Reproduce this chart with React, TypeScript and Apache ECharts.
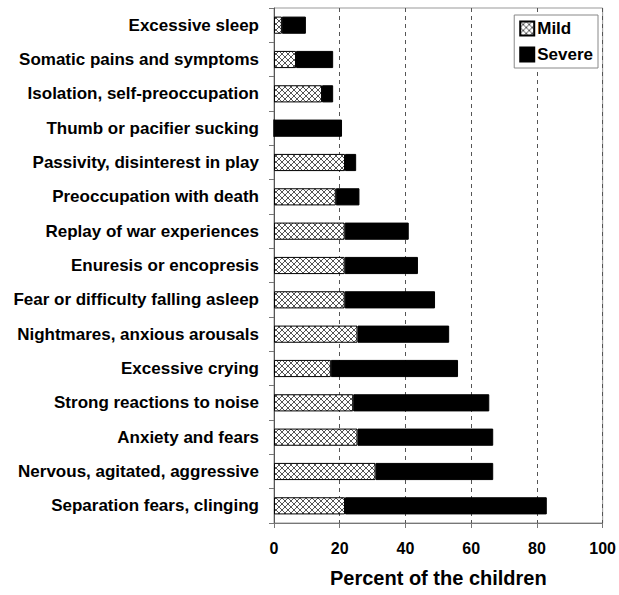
import React, { useEffect, useRef } from "react";
import * as echarts from "echarts";

const categories = [
  "Excessive sleep",
  "Somatic pains and symptoms",
  "Isolation, self-preoccupation",
  "Thumb or pacifier sucking",
  "Passivity, disinterest in play",
  "Preoccupation with death",
  "Replay of war experiences",
  "Enuresis or encopresis",
  "Fear or difficulty falling asleep",
  "Nightmares, anxious arousals",
  "Excessive crying",
  "Strong reactions to noise",
  "Anxiety and fears",
  "Nervous, agitated, aggressive",
  "Separation fears, clinging",
];

const mild = [2.4, 6.7, 14.6, 0, 21.6, 18.8, 21.5, 21.5, 21.5, 25.4, 17.3, 24.1, 25.4, 30.9, 21.6];
const severe = [7.3, 11.3, 3.4, 20.7, 3.4, 7.2, 19.5, 22.3, 27.5, 27.9, 38.7, 41.4, 41.3, 35.8, 61.4];

const xTicks = [0, 20, 40, 60, 80, 100];

function makePattern() {
  const c = document.createElement("canvas");
  c.width = 6;
  c.height = 6;
  const ctx = c.getContext("2d")!;
  ctx.fillStyle = "#ffffff";
  ctx.fillRect(0, 0, 6, 6);
  ctx.strokeStyle = "#555555";
  ctx.lineWidth = 1;
  ctx.beginPath();
  ctx.moveTo(0, 0);
  ctx.lineTo(6, 6);
  ctx.moveTo(6, 0);
  ctx.lineTo(0, 6);
  ctx.stroke();
  return c;
}

export default function App() {
  const ref = useRef<HTMLDivElement>(null);
  useEffect(() => {
    if (!ref.current) return;
    const chart = echarts.init(ref.current, undefined, { renderer: "svg" });
    const pattern = makePattern();
    const font = "'Liberation Sans', Arial, sans-serif";
    chart.setOption({
      animation: false,
      backgroundColor: "#ffffff",
      textStyle: { fontFamily: font },
      grid: {
        left: 274,
        right: 16,
        top: 8,
        bottom: 72,
        show: true,
        borderColor: "#999",
        borderWidth: 1,
      },
      legend: {
        orient: "vertical",
        right: 21,
        top: 15,
        backgroundColor: "#fff",
        borderColor: "#888",
        borderWidth: 1,
        padding: [5, 5, 5, 5],
        itemGap: 9,
        itemWidth: 14,
        itemHeight: 14,
        icon: "rect",
        textStyle: { fontWeight: "bold", fontSize: 17, color: "#000", fontFamily: font, padding: [0, 0, 0, -2] },
        data: ["Mild", "Severe"],
      },
      xAxis: {
        type: "value",
        min: 0,
        max: 100,
        interval: 20,
        name: "Percent of the children",
        nameLocation: "middle",
        nameGap: 45,
        nameTextStyle: { fontWeight: "bold", fontSize: 20, color: "#000", fontFamily: font },
        axisLine: { show: true, lineStyle: { color: "#777" } },
        axisTick: { show: true, length: 5, lineStyle: { color: "#777" } },
        axisLabel: {
          fontWeight: "bold",
          fontSize: 16,
          color: "#000",
          margin: 17,
          fontFamily: font,
          formatter: (v: number) => (xTicks.includes(v) ? String(v) : ""),
        },
        splitLine: { show: true, lineStyle: { color: "#555", type: [4, 4], width: 1 } },
      },
      yAxis: {
        type: "category",
        data: categories,
        inverse: true,
        axisLine: { show: true, lineStyle: { color: "#555" } },
        axisTick: { show: true, length: 5, lineStyle: { color: "#777" } },
        axisLabel: { fontWeight: "bold", fontSize: 17, color: "#000", margin: 15, fontFamily: font },
        splitLine: { show: false },
      },
      series: [
        {
          name: "Mild",
          type: "bar",
          stack: "total",
          data: mild,
          barWidth: "50%",
          itemStyle: { color: { image: pattern, repeat: "repeat" }, borderColor: "#000", borderWidth: 1 },
        },
        {
          name: "Severe",
          type: "bar",
          stack: "total",
          data: severe,
          barWidth: "50%",
          itemStyle: { color: "#000", borderColor: "#000", borderWidth: 1 },
        },
      ],
    });
    return () => chart.dispose();
  }, []);
  return <div ref={ref} style={{ position: "fixed", left: 0, top: 0, width: 619, height: 595 }} />;
}
